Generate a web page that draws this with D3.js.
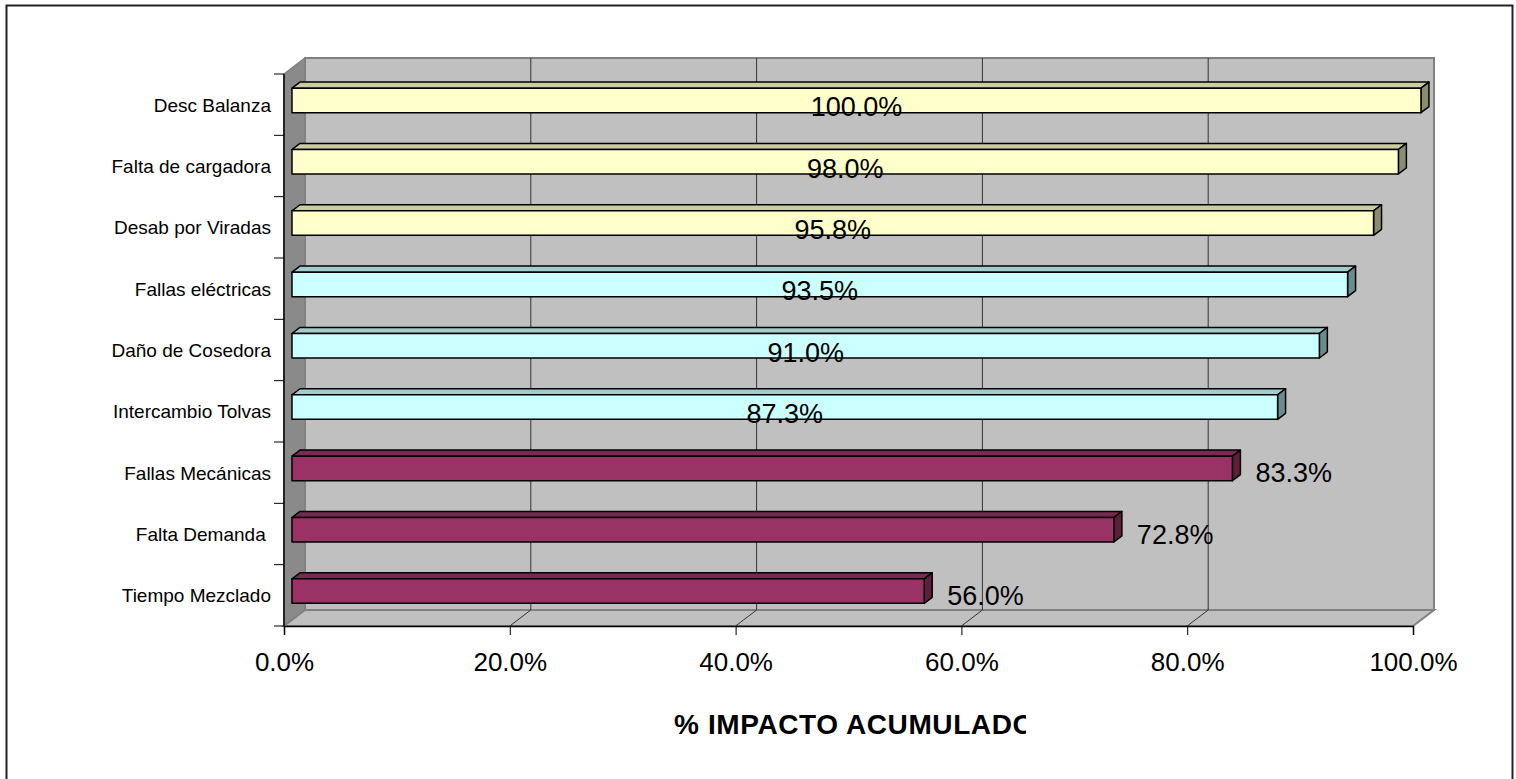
<!DOCTYPE html>
<html>
<head>
<meta charset="utf-8">
<script src="https://cdn.jsdelivr.net/npm/d3@7"></script>
<style>
  html, body { margin: 0; padding: 0; background: #ffffff; }
  svg { display: block; font-family: Arial, "Liberation Sans", sans-serif; }
</style>
</head>
<body>
<svg id="chart" width="1516" height="779"></svg>
<script>
// Causes of downtime, cumulative impact (top to bottom)
const categories = [
  "Desc Balanza",
  "Falta de cargadora",
  "Desab por Viradas",
  "Fallas eléctricas",
  "Daño de Cosedora",
  "Intercambio Tolvas",
  "Fallas Mecánicas",
  "Falta Demanda ",
  "Tiempo Mezclado"
];
const cumulativePct = [100.0, 98.0, 95.8, 93.5, 91.0, 87.3, 83.3, 72.8, 56.0];
// Pareto class of each cause: A = vital few, B = middle, C = trivial many
const paretoClass = ["C", "C", "C", "B", "B", "B", "A", "A", "A"];
const xTicks = [0, 20, 40, 60, 80, 100];
const axisTitle = "% IMPACTO ACUMULADO";

const svg = d3.select("#chart");

// Front plane of the 3-D box and the depth offset of its back wall
const pL = 284, pR = 1413, pT = 74, pB = 626;
const DX = 21, DY = 16;
const proj = (px, py, d) => [px + d * DX, py - d * DY];

const x = d3.scaleLinear().domain([0, 100]).range([pL, pR]);
const y = d3.scaleBand().domain(categories).range([pT, pB]).padding(0);
const bw = y.bandwidth();

const palette = {
  A: { front: "#993366", top: "#7a2952", side: "#5c1f3d" },
  B: { front: "#ccffff", top: "#a3cccc", side: "#6b8c8c" },
  C: { front: "#ffffcc", top: "#cccca3", side: "#8c8c70" }
};

// Outer chart frame
svg.append("rect")
  .attr("x", 6.5).attr("y", 5.5).attr("width", 1506).attr("height", 800)
  .attr("fill", "#ffffff").attr("stroke", "#222").attr("stroke-width", 2);

const poly = pts => "M" + pts.map(p => p.join(",")).join("L") + "Z";

// Walls and floor
svg.append("path")
  .attr("d", poly([proj(pL, pT, 1), proj(pR, pT, 1), proj(pR, pB, 1), proj(pL, pB, 1)]))
  .attr("fill", "#c0c0c0").attr("stroke", "#808080").attr("stroke-width", 2);
svg.append("path")
  .attr("d", poly([proj(pL, pT, 0), proj(pL, pT, 1), proj(pL, pB, 1), proj(pL, pB, 0)]))
  .attr("fill", "#8a8a8a").attr("stroke", "#808080").attr("stroke-width", 1.5);
svg.append("path")
  .attr("d", poly([proj(pL, pB, 0), proj(pR, pB, 0), proj(pR, pB, 1), proj(pL, pB, 1)]))
  .attr("fill", "#c0c0c0").attr("stroke", "#808080").attr("stroke-width", 2);

// Gridlines on the back wall and across the floor
const grid = svg.append("g").attr("stroke", "#333").attr("stroke-width", 1).attr("fill", "none");
xTicks.filter(t => t > 0 && t < 100).forEach(t => {
  const a = proj(x(t), pT, 1), b = proj(x(t), pB, 1), c = proj(x(t), pB, 0);
  grid.append("path").attr("d", `M${a}L${b}L${c}`);
});

// Category axis (front-left edge)
const yAxisG = svg.append("g");
yAxisG.append("line")
  .attr("x1", pL).attr("x2", pL).attr("y1", pT).attr("y2", pB)
  .attr("stroke", "#000").attr("stroke-width", 1.5);
const bounds = categories.map(c => y(c)).concat([pB]);
yAxisG.selectAll("line.tick").data(bounds).join("line")
  .attr("class", "tick")
  .attr("x1", pL - 10).attr("x2", pL)
  .attr("y1", d => d).attr("y2", d => d)
  .attr("stroke", "#000").attr("stroke-width", 1);
yAxisG.selectAll("text").data(categories).join("text")
  .attr("x", pL - 13)
  .attr("y", d => y(d) + bw / 2 + 7)
  .attr("text-anchor", "end")
  .attr("font-size", 19)
  .attr("fill", "#000")
  .attr("xml:space", "preserve")
  .text(d => d);

// Value axis along the front floor edge
const xAxis = d3.axisBottom(x)
  .tickValues(xTicks)
  .tickSize(9)
  .tickFormat(d => d.toFixed(1) + "%");
const xg = svg.append("g").attr("transform", `translate(0,${pB})`).call(xAxis);
xg.select(".domain").attr("stroke", "#000").attr("stroke-width", 1.5);
xg.selectAll(".tick line").attr("stroke", "#000");
xg.selectAll(".tick text")
  .attr("font-family", "Arial, 'Liberation Sans', sans-serif")
  .attr("font-size", 26)
  .attr("fill", "#000")
  .attr("dy", null)
  .attr("y", 45);

// 3-D bars
const d0 = 0.38, d1 = 0.76;
const rows = categories.map((c, i) => ({ cat: c, v: cumulativePct[i], cls: paretoClass[i] }));
const bars = svg.append("g").attr("stroke", "#000").attr("stroke-width", 1.5).attr("stroke-linejoin", "round");
rows.forEach(r => {
  const yt = y(r.cat) + bw * 0.33, yb = y(r.cat) + bw * 0.73;
  const x0 = x(0), xv = x(r.v);
  const col = palette[r.cls];
  bars.append("path").attr("fill", col.top)
    .attr("d", poly([proj(x0, yt, d0), proj(xv, yt, d0), proj(xv, yt, d1), proj(x0, yt, d1)]));
  bars.append("path").attr("fill", col.side)
    .attr("d", poly([proj(xv, yt, d0), proj(xv, yt, d1), proj(xv, yb, d1), proj(xv, yb, d0)]));
  bars.append("path").attr("fill", col.front)
    .attr("d", poly([proj(x0, yt, d0), proj(xv, yt, d0), proj(xv, yb, d0), proj(x0, yb, d0)]));
});

// Value labels: centred on pale bars, beside the dark ones
svg.append("g").selectAll("text").data(rows).join("text")
  .attr("font-size", 27)
  .attr("fill", "#000")
  .attr("text-anchor", d => d.cls === "A" ? "start" : "middle")
  .attr("x", d => d.cls === "A"
    ? x(d.v) + d1 * DX + 15
    : (x(0) + x(d.v)) / 2 + d0 * DX)
  .attr("y", d => y(d.cat) + bw / 2 + (d.cls === "A" ? 9.5 : 11.5))
  .text(d => d.v.toFixed(1) + "%");

// Axis title, clipped at the edge of its text box
svg.append("clipPath").attr("id", "titleClip")
  .append("rect").attr("x", 600).attr("y", 690).attr("width", 426).attr("height", 60);
svg.append("text")
  .attr("clip-path", "url(#titleClip)")
  .attr("x", 674)
  .attr("y", 734)
  .attr("text-anchor", "start")
  .attr("font-size", 28)
  .attr("letter-spacing", 0.6)
  .attr("font-weight", "bold")
  .attr("fill", "#000")
  .text(axisTitle);
</script>
</body>
</html>
